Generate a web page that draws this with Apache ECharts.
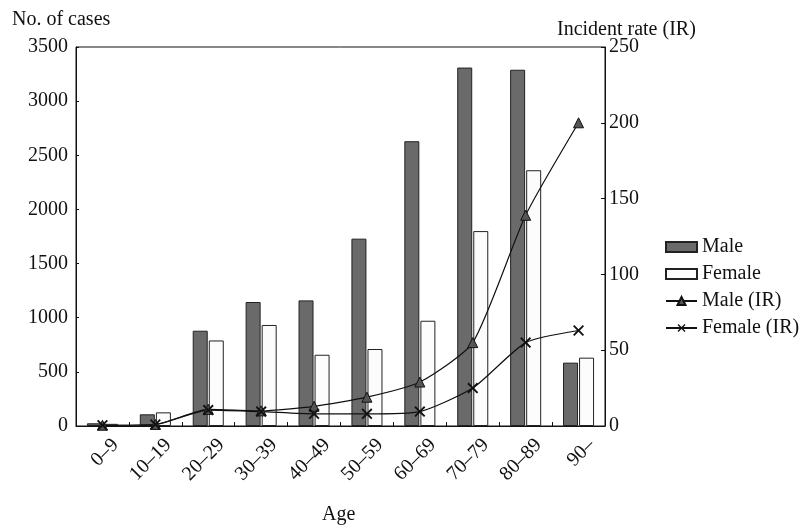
<!DOCTYPE html>
<html>
<head>
<meta charset="utf-8">
<script src="https://cdn.jsdelivr.net/npm/echarts@6/dist/echarts.min.js"></script>
<style>html,body{margin:0;padding:0;background:#fff}#c{width:806px;height:527px}</style>
</head>
<body>
<div id="c"></div>
<script>
var categories = ['0\u20139','10\u201319','20\u201329','30\u201339','40\u201349','50\u201359','60\u201369','70\u201379','80\u201389','90\u2013'];
var maleCases = [25, 108, 880, 1145, 1160, 1730, 2630, 3310, 3290, 585];
var femaleCases = [20, 126, 790, 933, 658, 711, 972, 1800, 2362, 631];
var maleIR = [0.5, 1, 11, 10, 13, 19, 29, 55, 139, 200];
var femaleIR = [0.5, 1, 10.5, 9.5, 8, 8, 9.5, 25, 55, 63];
var leftTicks = [0, 3500, 500];
var rightTicks = [0, 250, 50];

var FONT = 'Liberation Serif';
var FS = 20;
var chart = echarts.init(document.getElementById('c'));
var xShape = 'path://M0,1.2 L1.2,0 L5,3.8 L8.8,0 L10,1.2 L6.2,5 L10,8.8 L8.8,10 L5,6.2 L1.2,10 L0,8.8 L3.8,5 Z';
chart.setOption({
  animation: false,
  backgroundColor: '#fff',
  textStyle: {fontFamily: FONT, color: '#111'},
  grid: {left: 76, right: 201, top: 47, bottom: 101, show: true, borderColor: '#111', borderWidth: 1, backgroundColor: 'transparent'},
  legend: {
    orient: 'vertical', left: 660, top: 232, itemGap: 7, itemWidth: 31, itemHeight: 10,
    textStyle: {fontFamily: FONT, fontSize: FS, color: '#111'},
    data: [{name: 'Male', icon: 'rect'}, {name: 'Female', icon: 'rect'}, 'Male (IR)', 'Female (IR)']
  },
  graphic: [
    {type: 'text', left: 12, top: 10, style: {text: 'No. of cases', font: FS + 'px "Liberation Serif"', fill: '#111'}},
    {type: 'text', left: 557, top: 20, style: {text: 'Incident rate (IR)', font: FS + 'px "Liberation Serif"', fill: '#111'}},
    {type: 'text', left: 322, top: 505, style: {text: 'Age', font: FS + 'px "Liberation Serif"', fill: '#111'}}
  ],
  xAxis: {
    type: 'category', data: categories,
    axisLine: {lineStyle: {color: '#111'}},
    axisTick: {show: true, inside: true, length: 4, lineStyle: {color: '#111'}},
    axisLabel: {rotate: 45, fontSize: FS, color: '#111', fontFamily: FONT, margin: 3,
      align: 'right', verticalAlign: 'top', lineHeight: 37}
  },
  yAxis: [
    {type: 'value', min: leftTicks[0], max: leftTicks[1], interval: leftTicks[2], position: 'left',
     axisLine: {show: true, lineStyle: {color: '#111'}},
     axisTick: {show: true, inside: true, length: 3, lineStyle: {color: '#111'}},
     splitLine: {show: false},
     axisLabel: {fontSize: FS, color: '#111', fontFamily: FONT, margin: 8, formatter: function (v) { return String(v); }}},
    {type: 'value', min: rightTicks[0], max: rightTicks[1], interval: rightTicks[2], position: 'right',
     axisLine: {show: true, lineStyle: {color: '#111'}},
     axisTick: {show: true, inside: true, length: 4, lineStyle: {color: '#111'}},
     splitLine: {show: false},
     axisLabel: {fontSize: FS, color: '#111', fontFamily: FONT, margin: 4, formatter: function (v) { return String(v); }}}
  ],
  series: [
    {name: 'Male', type: 'bar', data: maleCases, barWidth: 15, barGap: '7%',
     itemStyle: {color: '#6a6a6a', borderColor: '#222', borderWidth: 1}},
    {name: 'Female', type: 'bar', data: femaleCases, barWidth: 15,
     itemStyle: {color: '#fcfcfc', borderColor: '#222', borderWidth: 1}},
    {name: 'Male (IR)', type: 'line', yAxisIndex: 1, data: maleIR, smooth: 0.2,
     symbol: 'triangle', symbolSize: 10,
     lineStyle: {color: '#111', width: 1.2}, itemStyle: {color: '#555', borderColor: '#111', borderWidth: 1}},
    {name: 'Female (IR)', type: 'line', yAxisIndex: 1, data: femaleIR, smooth: 0.2,
     symbol: xShape, symbolSize: 11,
     lineStyle: {color: '#111', width: 1.2}, itemStyle: {color: '#111'}}
  ]
});
</script>
</body>
</html>
